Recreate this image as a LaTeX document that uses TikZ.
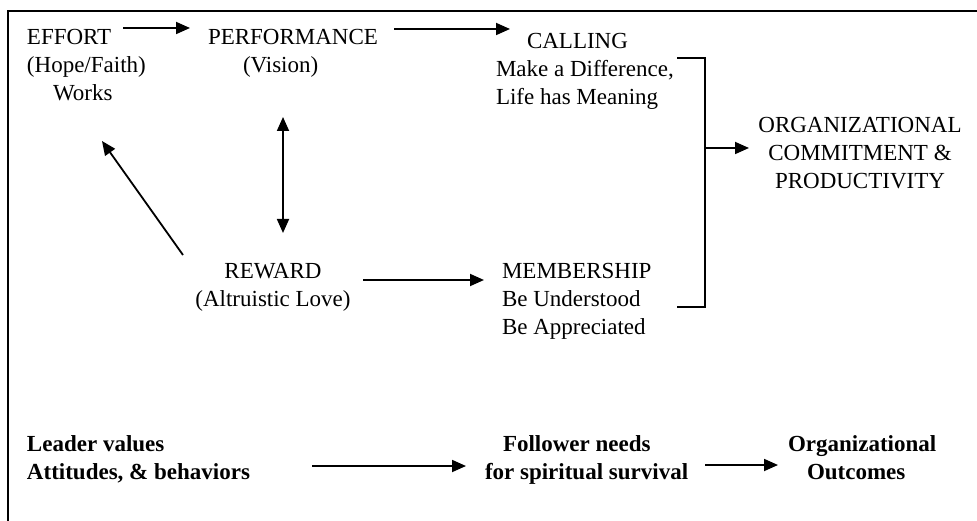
\documentclass[tikz,border=0pt]{standalone}
\usepackage{fontspec}
\setmainfont{Liberation Serif}
\usetikzlibrary{arrows.meta}
\begin{document}
\begin{tikzpicture}[x=1pt,y=-1pt,
  txt/.style={inner sep=0pt, outer sep=0pt, font=\fontsize{23}{28}\selectfont},
  btxt/.style={txt, font=\fontsize{23}{28}\selectfont\bfseries},
  tip/.tip={Triangle[length=14pt,width=12pt]},
  arr/.style={line width=1.8pt, -tip},
  darr/.style={line width=1.8pt, tip-tip},
  frame/.style={line width=2pt},
  brk/.style={line width=1.8pt}]
\useasboundingbox (0,0) rectangle (977,521);
% frame (left and top)
\draw[frame] (8,521) -- (8,11) -- (977,11);

% top row
\node[txt, anchor=north west, align=left] (effort) at (27,29.5) {EFFORT\\(Hope/Faith)\\\hspace*{26pt}Works};
\node[txt, anchor=north west, align=left] (perf) at (208,29.5) {PERFORMANCE\\\hspace*{35pt}(Vision)};
\node[txt, anchor=north west, align=left] (calling) at (496,33.5) {\hspace*{31pt}CALLING\\Make a Difference,\\Life has Meaning};
\node[txt, anchor=north, align=center] (org) at (860,117.5) {ORGANIZATIONAL\\COMMITMENT \&\\PRODUCTIVITY};
\node[txt, anchor=north, align=center] (reward) at (273,263.5) {REWARD\\(Altruistic Love)};
\node[txt, anchor=north west, align=left] (member) at (502,263.5) {MEMBERSHIP\\Be Understood\\Be Appreciated};

% bottom row
\node[btxt, anchor=north west, align=left] (leader) at (27,436) {Leader values\\Attitudes, \& behaviors};
\node[btxt, anchor=north west, align=left] (follower) at (485,436) {\hspace*{18pt}Follower needs\\for spiritual survival};
\node[btxt, anchor=north west, align=left] (outcomes) at (788,436) {Organizational\\\hspace*{19pt}Outcomes};

% connector endpoints
\coordinate (e1s) at (123,28);  \coordinate (e1t) at (190,28);
\coordinate (e2s) at (394,29);  \coordinate (e2t) at (510,29);
\coordinate (dgs) at (183,255); \coordinate (dgt) at (102,141);
\coordinate (vds) at (283,117); \coordinate (vdt) at (283,233);
\coordinate (rms) at (363,280); \coordinate (rmt) at (484,280);
\coordinate (bk1) at (677,58);  \coordinate (bk2) at (705,58);
\coordinate (bk3) at (705,307); \coordinate (bk4) at (677,307);
\coordinate (bos) at (705,148); \coordinate (bot) at (749,148);
\coordinate (l1s) at (312,466); \coordinate (l1t) at (466,466);
\coordinate (l2s) at (705,465); \coordinate (l2t) at (778,465);

\draw[arr] (e1s) -- (e1t);
\draw[arr] (e2s) -- (e2t);
\draw[arr] (dgs) -- (dgt);
\draw[darr] (vds) -- (vdt);
\draw[arr] (rms) -- (rmt);
\draw[brk] (bk1) -- (bk2) -- (bk3) -- (bk4);
\draw[arr] (bos) -- (bot);
\draw[arr] (l1s) -- (l1t);
\draw[arr] (l2s) -- (l2t);
\end{tikzpicture}
\end{document}
